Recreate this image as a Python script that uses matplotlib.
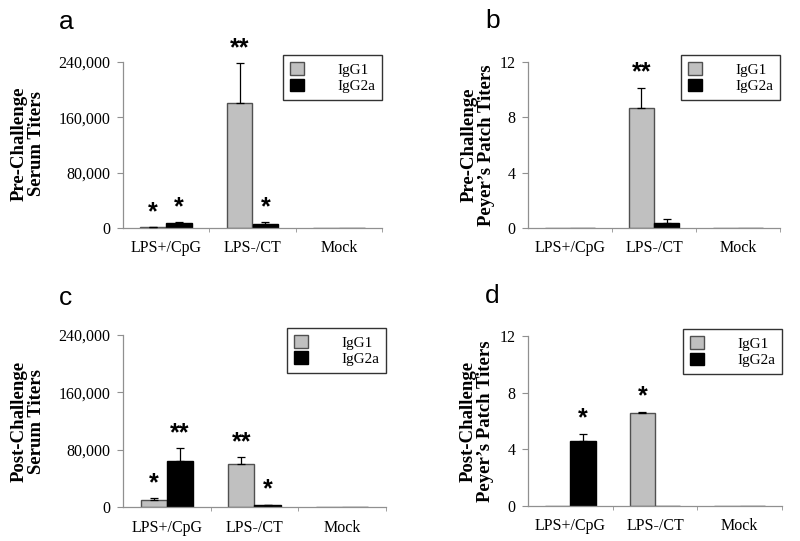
import numpy as np
import matplotlib
matplotlib.use("Agg")
import matplotlib.pyplot as plt
from matplotlib.patches import Patch

# groups and series
groups = ["LPS+/CpG", "LPS-/CT", "Mock"]
series = ["IgG1", "IgG2a"]

# panel a: pre-challenge serum titers
a_igg1 = [1500, 180000, 0]
a_igg1_err = [500, 58000, 0]
a_igg2a = [7500, 6000, 0]
a_igg2a_err = [1000, 2500, 0]
a_stars_igg1 = ["*", "**", ""]
a_stars_igg2a = ["*", "*", ""]

# panel b: pre-challenge Peyer's patch titers
b_igg1 = [0, 8.7, 0]
b_igg1_err = [0, 1.45, 0]
b_igg2a = [0, 0.35, 0]
b_igg2a_err = [0, 0.3, 0]
b_stars_igg1 = ["", "**", ""]
b_stars_igg2a = ["", "", ""]

# panel c: post-challenge serum titers
c_igg1 = [10000, 59500, 0]
c_igg1_err = [2500, 10500, 0]
c_igg2a = [64000, 3000, 0]
c_igg2a_err = [18000, 300, 0]
c_stars_igg1 = ["*", "**", ""]
c_stars_igg2a = ["**", "*", ""]

# panel d: post-challenge Peyer's patch titers
d_igg1 = [0, 6.6, 0]
d_igg1_err = [0, 0.04, 0]
d_igg2a = [4.6, 0, 0]
d_igg2a_err = [0.48, 0, 0]
d_stars_igg1 = ["", "*", ""]
d_stars_igg2a = ["*", "", ""]

serum_ticks = [0, 80000, 160000, 240000]
serum_ticklabels = ["0", "80,000", "160,000", "240,000"]
pp_ticks = [0, 4, 8, 12]
pp_ticklabels = ["0", "4", "8", "12"]

W, H = 800, 541
fig = plt.figure(figsize=(W / 100, H / 100), dpi=100)

serif = "Liberation Serif"
sans = "Liberation Sans"
gray = "#c0c0c0"


def px_axes(left, right, top, bottom):
    return fig.add_axes([left / W, (H - bottom) / H, (right - left) / W, (bottom - top) / H])


def draw_panel(ax, v1, e1, v2, e2, s1, s2, ymax, ticks, ticklabels, star_off):
    x = np.arange(len(groups))
    bw = 0.3
    ax.bar(x - bw / 2, v1, bw, color=gray, edgecolor="#505050", linewidth=1.0, zorder=2)
    ax.bar(x + bw / 2, v2, bw, color="black", edgecolor="black", linewidth=1.0, zorder=2)
    for xs, vals, errs, stars in [(x - bw / 2, v1, e1, s1), (x + bw / 2, v2, e2, s2)]:
        for xi, v, e, s in zip(xs, vals, errs, stars):
            if e > 0:
                ax.errorbar(xi, v, yerr=[[0], [e]], fmt="none", ecolor="black",
                            elinewidth=0.9, capsize=3, capthick=0.9, zorder=3)
            if s:
                ax.text(xi, v + e + star_off, s, ha="center", va="bottom",
                        fontsize=18, fontweight="bold", family=sans)
    ax.set_xlim(-0.5, 2.5)
    ax.set_ylim(0, ymax)
    ax.set_yticks(ticks)
    ax.set_yticklabels(ticklabels, family=serif, fontsize=11.5)
    ax.set_xticks(x)
    ax.set_xticklabels(groups, family=serif, fontsize=11.5)
    ax.set_xticks([0.5, 1.5, 2.5], minor=True)
    ax.tick_params(axis="x", which="major", length=0, pad=9)
    ax.tick_params(axis="x", which="minor", length=3, color="#909090", direction="out")
    ax.tick_params(axis="y", length=4, color="#909090", direction="out", pad=5)
    for side in ["top", "right"]:
        ax.spines[side].set_visible(False)
    for side in ["left", "bottom"]:
        ax.spines[side].set_color("#909090")
        ax.spines[side].set_linewidth(0.9)
    handles = [Patch(facecolor=gray, edgecolor="#505050"),
               Patch(facecolor="black", edgecolor="black")]
    leg = ax.legend(handles, series, loc="upper right", bbox_to_anchor=(1.0, 1.04),
                    prop={"family": serif, "size": 11}, frameon=True, fancybox=False,
                    handlelength=0.9, handleheight=0.9, handletextpad=2.2,
                    borderpad=0.45, labelspacing=0.12, borderaxespad=0)
    leg.get_frame().set_edgecolor("black")
    leg.get_frame().set_linewidth(1.0)


ax_a = px_axes(123, 382, 62, 228)
draw_panel(ax_a, a_igg1, a_igg1_err, a_igg2a, a_igg2a_err, a_stars_igg1, a_stars_igg2a,
           240000, serum_ticks, serum_ticklabels, 4000)
ax_b = px_axes(528, 780, 62, 228)
draw_panel(ax_b, b_igg1, b_igg1_err, b_igg2a, b_igg2a_err, b_stars_igg1, b_stars_igg2a,
           12, pp_ticks, pp_ticklabels, 0.25)
ax_c = px_axes(123, 386, 335, 507)
draw_panel(ax_c, c_igg1, c_igg1_err, c_igg2a, c_igg2a_err, c_stars_igg1, c_stars_igg2a,
           240000, serum_ticks, serum_ticklabels, 4000)
ax_d = px_axes(528, 782, 336, 506)
draw_panel(ax_d, d_igg1, d_igg1_err, d_igg2a, d_igg2a_err, d_stars_igg1, d_stars_igg2a,
           12, pp_ticks, pp_ticklabels, 0.25)

# y labels
ylabels = [("Pre-Challenge\nSerum Titers", 28, 144),
           ("Pre-Challenge\nPeyer\u2019s Patch Titers", 478, 145),
           ("Post-Challenge\nSerum Titers", 28, 421),
           ("Post-Challenge\nPeyer\u2019s Patch Titers", 477, 421)]
for txt, xp, yp in ylabels:
    fig.text(xp / W, 1 - yp / H, txt, rotation=90, ha="center", va="center",
             family=serif, fontweight="bold", fontsize=13.5, linespacing=1.0)

# panel letters
for letter, xp, yp in [("a", 66, 22), ("b", 493, 21), ("c", 66, 298), ("d", 492, 296)]:
    fig.text(xp / W, 1 - yp / H, letter, ha="center", va="center", family=sans, fontsize=19)

fig.savefig("out.png", dpi=100)
